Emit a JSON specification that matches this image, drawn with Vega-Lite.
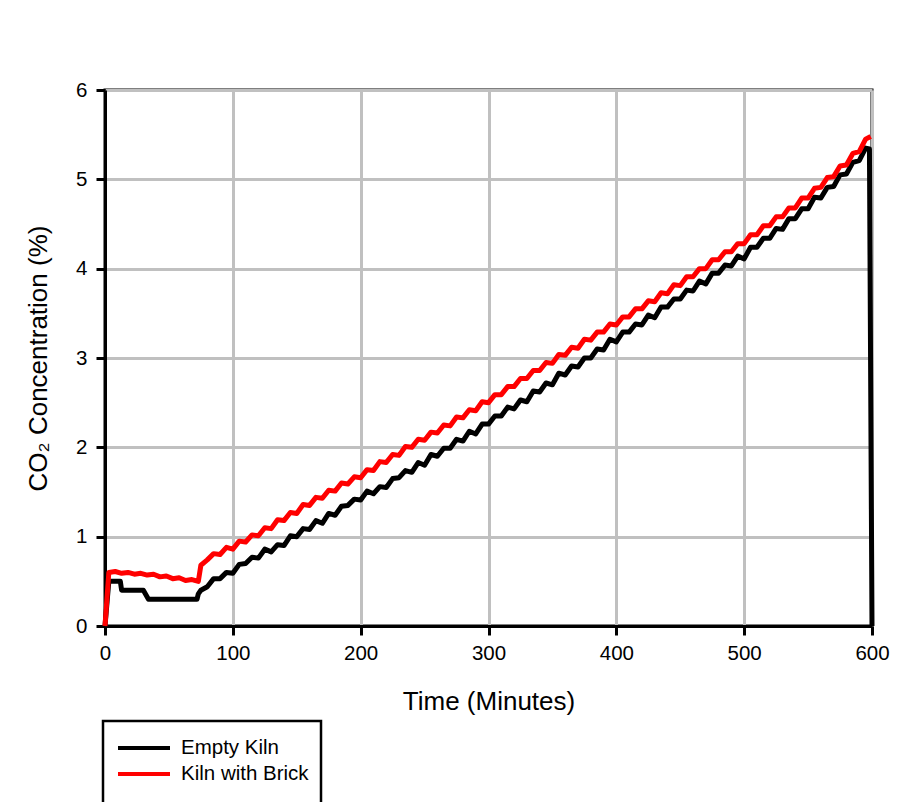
{
"$schema": "https://vega.github.io/schema/vega-lite/v6.json",
"width": 767, "height": 536,
"autosize": {"type": "none"},
"padding": {"left": 105, "top": 90, "right": 32, "bottom": 176},
"background": "white",
"config": {
  "font": "Liberation Sans",
  "view": {"stroke": "black", "strokeWidth": 3},
  "axis": {"domainColor": "black", "domainWidth": 3, "tickColor": "black", "tickWidth": 3, "tickSize": 9, "gridColor": "#c0c0c0", "gridWidth": 3, "labelFont": "Liberation Sans", "labelFontSize": 20.5, "labelColor": "black", "labelFlush": false, "titleFont": "Liberation Sans", "titleFontSize": 26, "titleFontWeight": "normal", "titleColor": "black"}
},
"datasets": {
"empty": [
{"time":0,"co2":0},{"time":3,"co2":0.5},{"time":12,"co2":0.5},{"time":13,"co2":0.4},{"time":30,"co2":0.4},{"time":34,"co2":0.3},{"time":72,"co2":0.3},{"time":73,"co2":0.36},
{"time":75,"co2":0.40},{"time":80,"co2":0.44},{"time":85,"co2":0.53},{"time":90,"co2":0.53},{"time":95,"co2":0.60},{"time":100,"co2":0.59},{"time":105,"co2":0.69},{"time":110,"co2":0.70},{"time":115,"co2":0.77},{"time":120,"co2":0.76},{"time":125,"co2":0.86},{"time":130,"co2":0.83},{"time":135,"co2":0.91},{"time":140,"co2":0.90},{"time":145,"co2":1.01},{"time":150,"co2":1.00},{"time":155,"co2":1.09},{"time":160,"co2":1.08},{"time":165,"co2":1.18},{"time":170,"co2":1.15},{"time":175,"co2":1.26},{"time":180,"co2":1.24},{"time":185,"co2":1.34},{"time":190,"co2":1.35},{"time":195,"co2":1.42},{"time":200,"co2":1.41},{"time":205,"co2":1.51},{"time":210,"co2":1.48},{"time":215,"co2":1.56},{"time":220,"co2":1.55},{"time":225,"co2":1.65},{"time":230,"co2":1.66},{"time":235,"co2":1.74},{"time":240,"co2":1.72},{"time":245,"co2":1.83},{"time":250,"co2":1.80},{"time":255,"co2":1.92},{"time":260,"co2":1.90},{"time":265,"co2":1.99},{"time":270,"co2":1.99},{"time":275,"co2":2.09},{"time":280,"co2":2.07},{"time":285,"co2":2.18},{"time":290,"co2":2.15},{"time":295,"co2":2.26},{"time":300,"co2":2.26},{"time":305,"co2":2.35},{"time":310,"co2":2.35},{"time":315,"co2":2.45},{"time":320,"co2":2.43},{"time":325,"co2":2.53},{"time":330,"co2":2.51},{"time":335,"co2":2.63},{"time":340,"co2":2.62},{"time":345,"co2":2.72},{"time":350,"co2":2.70},{"time":355,"co2":2.83},{"time":360,"co2":2.81},{"time":365,"co2":2.91},{"time":370,"co2":2.90},{"time":375,"co2":3.00},{"time":380,"co2":3.00},{"time":385,"co2":3.10},{"time":390,"co2":3.09},{"time":395,"co2":3.21},{"time":400,"co2":3.18},{"time":405,"co2":3.29},{"time":410,"co2":3.29},{"time":415,"co2":3.38},{"time":420,"co2":3.37},{"time":425,"co2":3.48},{"time":430,"co2":3.45},{"time":435,"co2":3.57},{"time":440,"co2":3.57},{"time":445,"co2":3.66},{"time":450,"co2":3.66},{"time":455,"co2":3.76},{"time":460,"co2":3.75},{"time":465,"co2":3.86},{"time":470,"co2":3.83},{"time":475,"co2":3.95},{"time":480,"co2":3.95},{"time":485,"co2":4.04},{"time":490,"co2":4.03},{"time":495,"co2":4.14},{"time":500,"co2":4.11},{"time":505,"co2":4.24},{"time":510,"co2":4.24},{"time":515,"co2":4.34},{"time":520,"co2":4.34},{"time":525,"co2":4.45},{"time":530,"co2":4.44},{"time":535,"co2":4.56},{"time":540,"co2":4.56},{"time":545,"co2":4.67},{"time":550,"co2":4.67},{"time":555,"co2":4.80},{"time":560,"co2":4.79},{"time":565,"co2":4.91},{"time":570,"co2":4.92},{"time":575,"co2":5.05},{"time":580,"co2":5.06},{"time":585,"co2":5.19},{"time":590,"co2":5.21},{"time":595,"co2":5.35},{"time":598,"co2":5.34},{"time":600,"co2":0}
],
"brick": [
{"time":0,"co2":0},{"time":3,"co2":0.60},{"time":8,"co2":0.61},{"time":13,"co2":0.59},{"time":18,"co2":0.60},{"time":23,"co2":0.58},{"time":28,"co2":0.59},{"time":33,"co2":0.57},{"time":38,"co2":0.58},{"time":43,"co2":0.55},{"time":48,"co2":0.56},{"time":53,"co2":0.53},{"time":58,"co2":0.54},{"time":63,"co2":0.51},{"time":68,"co2":0.52},{"time":73,"co2":0.50},
{"time":75,"co2":0.68},{"time":80,"co2":0.74},{"time":85,"co2":0.81},{"time":90,"co2":0.80},{"time":95,"co2":0.88},{"time":100,"co2":0.86},{"time":105,"co2":0.95},{"time":110,"co2":0.94},{"time":115,"co2":1.02},{"time":120,"co2":1.01},{"time":125,"co2":1.10},{"time":130,"co2":1.09},{"time":135,"co2":1.19},{"time":140,"co2":1.18},{"time":145,"co2":1.27},{"time":150,"co2":1.26},{"time":155,"co2":1.36},{"time":160,"co2":1.35},{"time":165,"co2":1.44},{"time":170,"co2":1.43},{"time":175,"co2":1.52},{"time":180,"co2":1.51},{"time":185,"co2":1.60},{"time":190,"co2":1.59},{"time":195,"co2":1.67},{"time":200,"co2":1.66},{"time":205,"co2":1.75},{"time":210,"co2":1.74},{"time":215,"co2":1.84},{"time":220,"co2":1.83},{"time":225,"co2":1.92},{"time":230,"co2":1.91},{"time":235,"co2":2.01},{"time":240,"co2":2.00},{"time":245,"co2":2.09},{"time":250,"co2":2.08},{"time":255,"co2":2.17},{"time":260,"co2":2.16},{"time":265,"co2":2.25},{"time":270,"co2":2.24},{"time":275,"co2":2.34},{"time":280,"co2":2.33},{"time":285,"co2":2.42},{"time":290,"co2":2.41},{"time":295,"co2":2.51},{"time":300,"co2":2.50},{"time":305,"co2":2.59},{"time":310,"co2":2.59},{"time":315,"co2":2.68},{"time":320,"co2":2.68},{"time":325,"co2":2.77},{"time":330,"co2":2.77},{"time":335,"co2":2.86},{"time":340,"co2":2.86},{"time":345,"co2":2.95},{"time":350,"co2":2.94},{"time":355,"co2":3.04},{"time":360,"co2":3.03},{"time":365,"co2":3.12},{"time":370,"co2":3.11},{"time":375,"co2":3.21},{"time":380,"co2":3.20},{"time":385,"co2":3.29},{"time":390,"co2":3.29},{"time":395,"co2":3.38},{"time":400,"co2":3.37},{"time":405,"co2":3.46},{"time":410,"co2":3.46},{"time":415,"co2":3.55},{"time":420,"co2":3.55},{"time":425,"co2":3.64},{"time":430,"co2":3.63},{"time":435,"co2":3.73},{"time":440,"co2":3.72},{"time":445,"co2":3.82},{"time":450,"co2":3.81},{"time":455,"co2":3.91},{"time":460,"co2":3.91},{"time":465,"co2":4.00},{"time":470,"co2":4.00},{"time":475,"co2":4.10},{"time":480,"co2":4.10},{"time":485,"co2":4.19},{"time":490,"co2":4.19},{"time":495,"co2":4.28},{"time":500,"co2":4.28},{"time":505,"co2":4.38},{"time":510,"co2":4.38},{"time":515,"co2":4.48},{"time":520,"co2":4.48},{"time":525,"co2":4.58},{"time":530,"co2":4.58},{"time":535,"co2":4.68},{"time":540,"co2":4.68},{"time":545,"co2":4.79},{"time":550,"co2":4.79},{"time":555,"co2":4.90},{"time":560,"co2":4.91},{"time":565,"co2":5.02},{"time":570,"co2":5.03},{"time":575,"co2":5.15},{"time":580,"co2":5.16},{"time":585,"co2":5.29},{"time":590,"co2":5.31},{"time":595,"co2":5.45},{"time":599,"co2":5.48}
]
},
"encoding": {
  "x": {"field": "time", "type": "quantitative", "scale": {"domain": [0, 600], "nice": false}, "axis": {"values": [0,100,200,300,400,500,600], "title": "Time (Minutes)", "labelPadding": 8, "titlePadding": 25}},
  "y": {"field": "co2", "type": "quantitative", "scale": {"domain": [0, 6], "nice": false}, "axis": {"values": [0,1,2,3,4,5,6], "title": "CO₂ Concentration (%)", "labelPadding": 9, "titlePadding": 24}}
},
"layer": [
  {"data": {"name": "empty"}, "mark": {"type": "line", "strokeWidth": 5, "strokeJoin": "round"}, "encoding": {"color": {"datum": "Empty Kiln", "type": "nominal", "scale": {"domain": ["Empty Kiln", "Kiln with Brick"], "range": ["#000000", "#ff0000"]}, "legend": {"title": "\u00a0", "titleOrient": "bottom", "titleFontSize": 20, "titlePadding": 4, "orient": "none", "legendX": -2, "legendY": 631, "direction": "vertical", "strokeColor": "black", "fillColor": "white", "padding": 12, "symbolType": "M-2,0H2", "symbolSize": 676, "symbolStrokeWidth": 4, "symbolOffset": 14, "labelOffset": 22, "rowPadding": -6, "labelFontSize": 20.5, "labelFont": "Liberation Sans", "labelColor": "black", "labelLimit": 300, "labelExpr": "datum.label + '\u00a0\u00a0\u00a0'", "encode": {"legend": {"update": {"strokeWidth": {"value": 2.5}}}}}}}},
  {"data": {"name": "brick"}, "mark": {"type": "line", "strokeWidth": 5, "strokeJoin": "round"}, "encoding": {"color": {"datum": "Kiln with Brick", "type": "nominal"}}}
]
}
